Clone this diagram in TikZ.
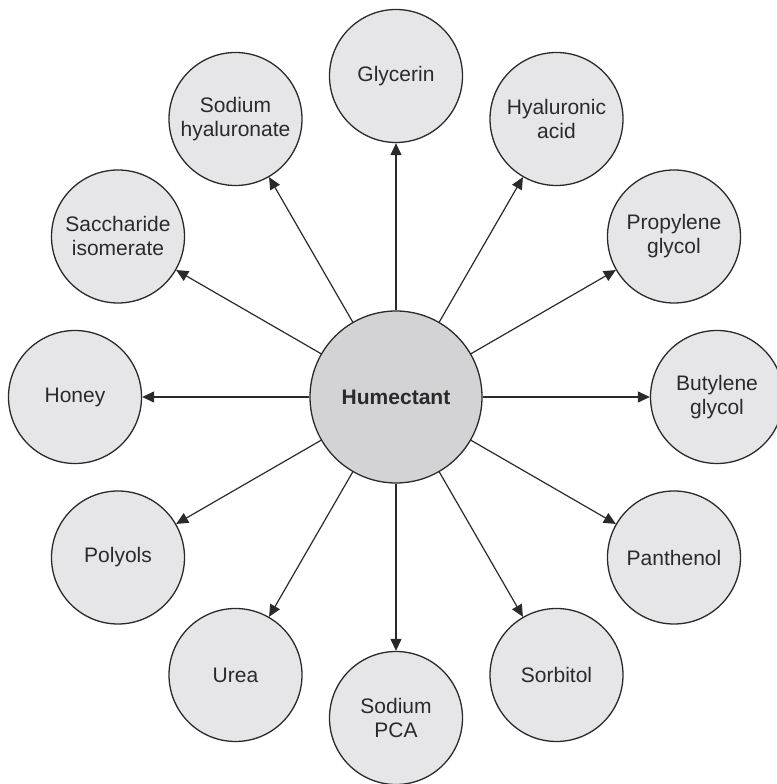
\documentclass[tikz,border=0pt]{standalone}
\usepackage{fontspec}
\setmainfont{Liberation Sans}
\usetikzlibrary{arrows.meta,calc}
\definecolor{hubfill}{HTML}{D3D3D5}
\definecolor{leaffill}{HTML}{E6E6E8}
\definecolor{ink}{HTML}{2A2A2A}
\tikzset{
  hub/.style={circle, draw=ink, line width=1.3pt, fill=hubfill, minimum size=172pt,
    inner sep=0pt, text=ink, font=\fontsize{21}{24}\selectfont\bfseries},
  leaf/.style={circle, draw=ink, line width=1.3pt, fill=leaffill, minimum size=133pt,
    inner sep=0pt, align=center, text=ink, font=\fontsize{21}{24}\selectfont},
  link/.style={draw=ink, line width=1.2pt, -{Triangle[length=12pt,width=11pt]}}
}
\begin{document}
\begin{tikzpicture}[x=1pt,y=1pt]
  \useasboundingbox (0,0) rectangle (776,784);
  \node[hub] (hum) at (396,387) {Humectant};
  \foreach \ang/\nm/\txt in {
      90/glycerin/{Glycerin},
      60/hyaluronic/{Hyaluronic\\acid},
      30/propylene/{Propylene\\glycol},
      0/butylene/{Butylene\\glycol},
      -30/panthenol/{Panthenol},
      -60/sorbitol/{Sorbitol},
      -90/pca/{Sodium\\PCA},
      -120/urea/{Urea},
      -150/polyols/{Polyols},
      180/honey/{Honey},
      150/saccharide/{Saccharide\\isomerate},
      120/sodhyal/{Sodium\\hyaluronate}} {
    \node[leaf] (\nm) at ($(hum)+(\ang:321pt)$) {\txt};
    \draw[link] (hum) -- (\nm);
  }
\end{tikzpicture}
\end{document}
